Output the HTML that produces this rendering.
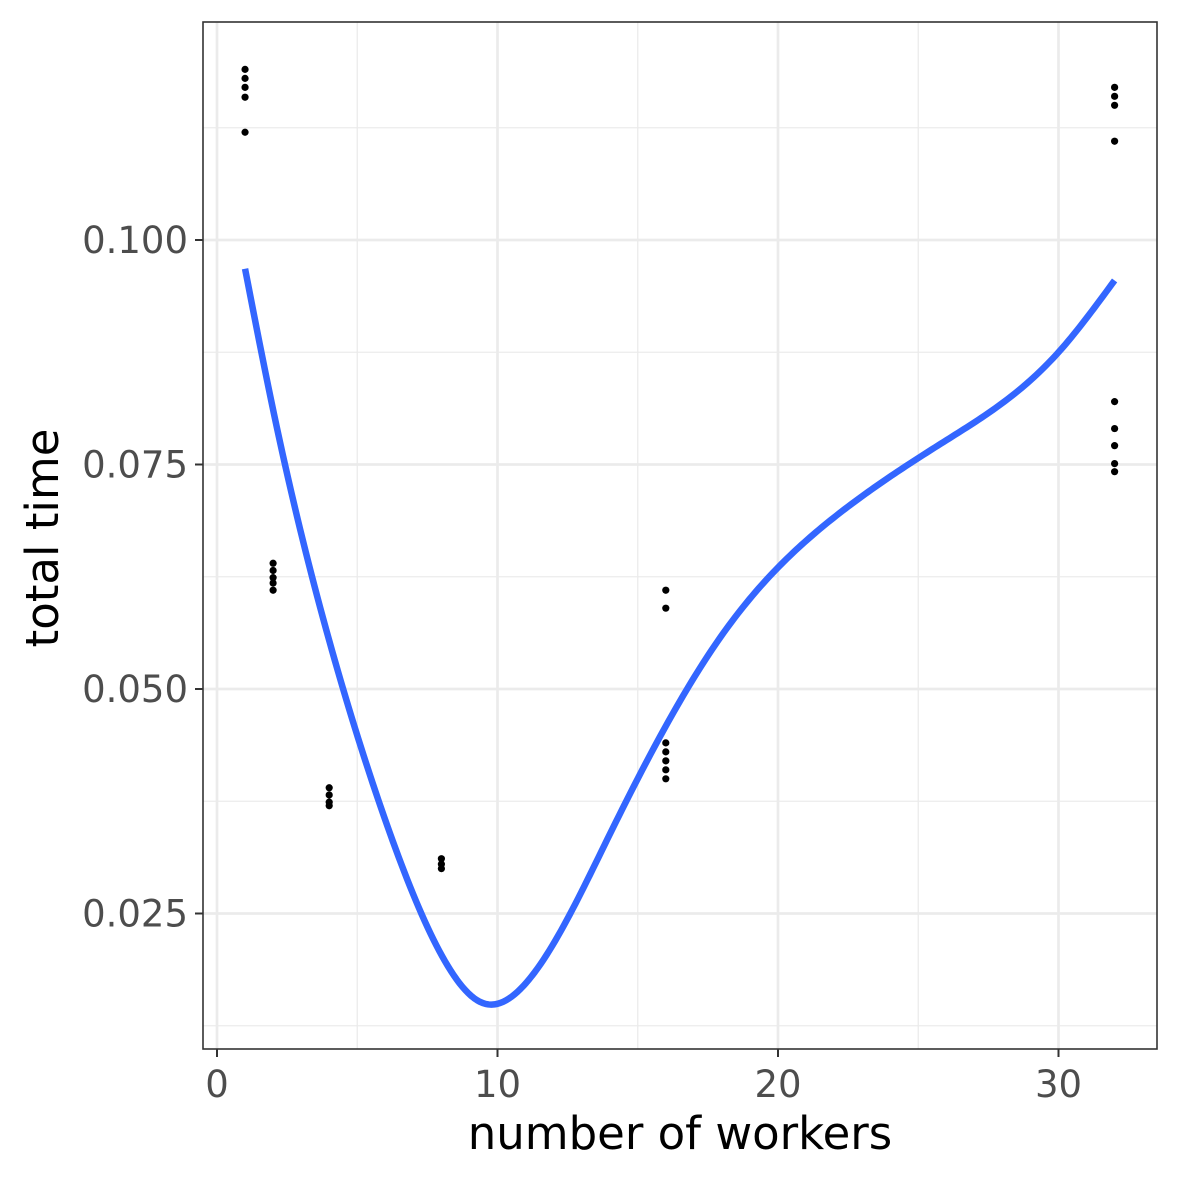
<!DOCTYPE html>
<html><head><meta charset="utf-8"><style>
html,body{margin:0;padding:0;background:#fff}
svg{display:block}
text{font-family:"DejaVu Sans","Liberation Sans",sans-serif}
</style></head><body>
<svg id="chart" width="1181" height="1181" viewBox="0 0 1181 1181" xmlns="http://www.w3.org/2000/svg">
<rect x="0" y="0" width="1181" height="1181" fill="#fff"/>
<g id="grid"></g>
<g id="curve"></g>
<g id="points"></g>
<rect x="203" y="22" width="954" height="1027" fill="none" stroke="#333" stroke-width="1.6"/>
<g id="axes"></g>
<text x="680" y="1149" font-size="45" text-anchor="middle" fill="#000">number of workers</text>
<text transform="translate(58,538) rotate(-90)" font-size="45" text-anchor="middle" fill="#000">total time</text>
</svg>
<script>
const ptX = [1,1,1,1,1, 2,2,2,2,2, 4,4,4,4, 8,8,8, 16,16,16,16,16,16,16, 32,32,32,32,32,32,32,32,32];
const ptY = [0.1190,0.1180,0.1170,0.1159,0.1120, 0.0640,0.0632,0.0624,0.0618,0.0610, 0.0390,0.0382,0.0374,0.0370, 0.0311,0.0305,0.0300, 0.0610,0.0590,0.0440,0.0430,0.0420,0.0410,0.0400, 0.1170,0.1160,0.1150,0.1110,0.0820,0.0790,0.0771,0.0751,0.0742];
const curveX = [1,2,4,6,8,9.5,11,14,18,22.2,26,30,32];
const curveY = [0.0968,0.0811,0.0554,0.0354,0.0204,0.0150,0.0172,0.0338,0.0560,0.0696,0.0777,0.0875,0.0955];
const xTicks = [0,10,20,30];
const xMinor = [5,15,25];
const yTicks = [0.025,0.050,0.075,0.100];
const yTickLabels = ["0.025","0.050","0.075","0.100"];
const yMinor = [0.0125,0.0375,0.0625,0.0875,0.1125];

const NS="http://www.w3.org/2000/svg";
const X = v => 217 + v*28.05;
const Y = v => 240 + (0.1 - v)*8980;
const L=203,R=1157,T=22,B=1049;
function mk(tag, attrs, parent){const e=document.createElementNS(NS,tag);for(const k in attrs)e.setAttribute(k,attrs[k]);parent.appendChild(e);return e;}
const grid=document.getElementById('grid'), axes=document.getElementById('axes');
xMinor.forEach(v=>{const e=mk('line',{x1:X(v),x2:X(v),y1:T,y2:B,stroke:'#ebebeb','stroke-width':1.3},grid);

});
yMinor.forEach(v=>{const e=mk('line',{x1:L,x2:R,y1:Y(v),y2:Y(v),stroke:'#ebebeb','stroke-width':1.3},grid);

});
xTicks.forEach(v=>{const e=mk('line',{x1:X(v),x2:X(v),y1:T,y2:B,stroke:'#ebebeb','stroke-width':2.7},grid);


const t=mk('line',{x1:X(v),x2:X(v),y1:B,y2:B+8,stroke:'#333','stroke-width':2},axes);


const l=mk('text',{x:X(v),y:1097,'font-size':37,'text-anchor':'middle',fill:'#4d4d4d'},axes);l.textContent=String(v);

});
yTicks.forEach((v,i)=>{const e=mk('line',{x1:L,x2:R,y1:Y(v),y2:Y(v),stroke:'#ebebeb','stroke-width':2.7},grid);


const t=mk('line',{x1:L-8,x2:L,y1:Y(v),y2:Y(v),stroke:'#333','stroke-width':2},axes);


const l=mk('text',{x:188,y:Y(v)+13,'font-size':37,'text-anchor':'end',fill:'#4d4d4d'},axes);l.textContent=yTickLabels[i];

});
function spline(xs,ys){const n=xs.length,h=[],a=[],l=[1],mu=[0],z=[0],c=new Array(n).fill(0),b=[],d=[];
for(let i=0;i<n-1;i++)h[i]=xs[i+1]-xs[i];
for(let i=1;i<n-1;i++)a[i]=3/h[i]*(ys[i+1]-ys[i])-3/h[i-1]*(ys[i]-ys[i-1]);
for(let i=1;i<n-1;i++){l[i]=2*(xs[i+1]-xs[i-1])-h[i-1]*mu[i-1];mu[i]=h[i]/l[i];z[i]=(a[i]-h[i-1]*z[i-1])/l[i];}
for(let j=n-2;j>=0;j--){c[j]=(j>0?z[j]-mu[j]*c[j+1]:0);b[j]=(ys[j+1]-ys[j])/h[j]-h[j]*(c[j+1]+2*c[j])/3;d[j]=(c[j+1]-c[j])/(3*h[j]);}
return x=>{let i=0;while(i<n-2&&x>xs[i+1])i++;const t=x-xs[i];return ys[i]+b[i]*t+c[i]*t*t+d[i]*t*t*t;};}
const f=spline(curveX,curveY);
let d='';const x0=curveX[0],x1=curveX[curveX.length-1];
for(let k=0;k<=300;k++){const x=x0+(x1-x0)*k/300;d+=(k?' L':'M')+X(x).toFixed(2)+','+Y(f(x)).toFixed(2);}
const c=mk('path',{d:d,fill:'none',stroke:'#3366ff','stroke-width':6.5,'stroke-linejoin':'round'},document.getElementById('curve'));


const pts=document.getElementById('points');
ptX.forEach((x,i)=>{const e=mk('circle',{cx:X(x),cy:Y(ptY[i]),r:3.6,fill:'#000'},pts);

});
</script>
</body></html>
